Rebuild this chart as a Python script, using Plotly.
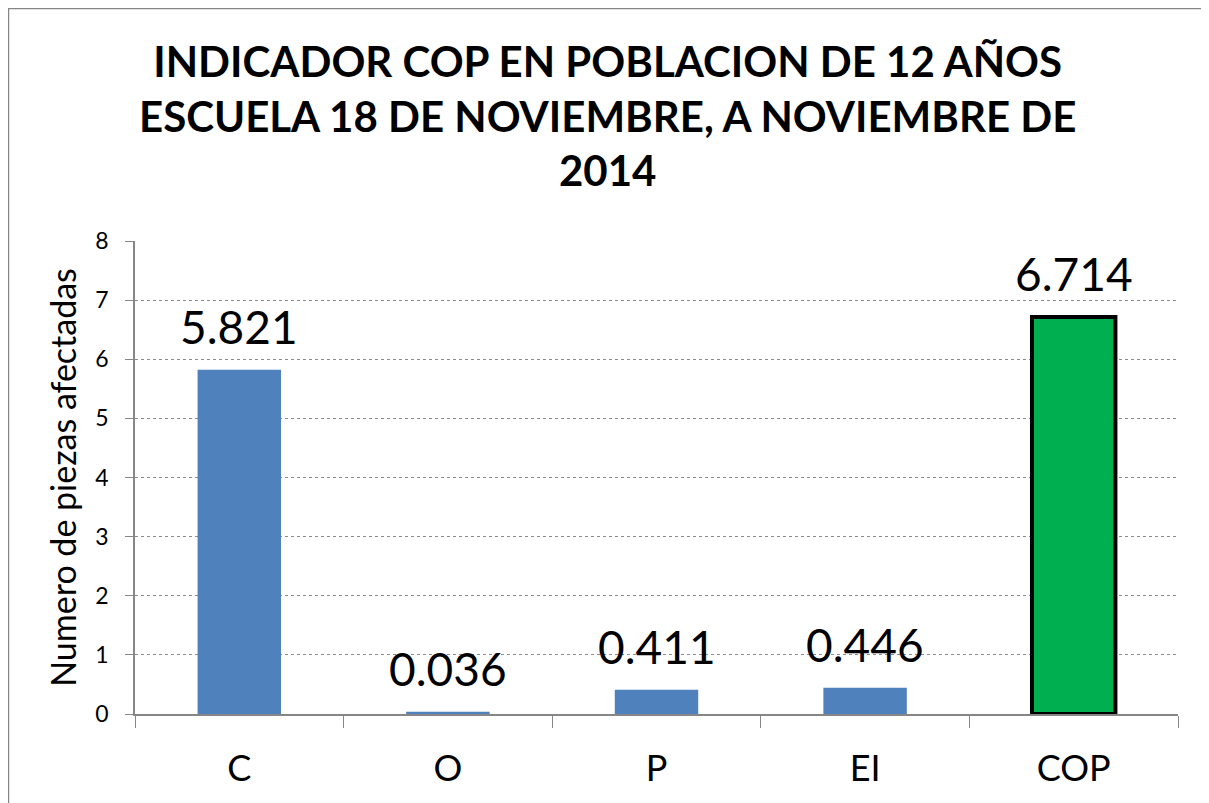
import plotly.graph_objects as go

categories = ["C", "O", "P", "EI", "COP"]
values = [5.821, 0.036, 0.411, 0.446, 6.714]
labels = ["5.821", "0.036", "0.411", "0.446", "6.714"]
bar_colors = ["#4F81BD", "#4F81BD", "#4F81BD", "#4F81BD", "#00B050"]
line_colors = ["#4F81BD", "#4F81BD", "#4F81BD", "#4F81BD", "#000000"]
line_widths = [0, 0, 0, 0, 4]

title_lines = [
    "INDICADOR COP EN POBLACION DE 12 AÑOS",
    "ESCUELA 18 DE NOVIEMBRE, A NOVIEMBRE DE",
    "2014",
]

font_family = "Lato, 'Open Sans', sans-serif"

fig = go.Figure()
fig.add_trace(
    go.Bar(
        x=categories,
        y=values,
        cliponaxis=False,
        marker=dict(color=bar_colors, line=dict(color=line_colors, width=line_widths)),
        width=0.4,
    )
)

# value labels sit a little higher above the bars than plotly's outside text
for cat, val, lab in zip(categories, values, labels):
    fig.add_annotation(
        x=cat,
        y=val,
        text=lab,
        showarrow=False,
        yanchor="bottom",
        yshift=14,
        font=dict(size=46, color="black", family=font_family),
    )

fig.update_xaxes(
    showline=True,
    linecolor="#868686",
    linewidth=1.5,
    ticks="outside",
    tickson="boundaries",
    ticklen=12,
    tickcolor="#868686",
    ticklabelstandoff=22,
    tickfont=dict(size=36, color="black", family=font_family),
    showgrid=False,
)
fig.update_yaxes(
    range=[0, 8],
    dtick=1,
    showline=True,
    linecolor="#868686",
    linewidth=1.5,
    ticks="outside",
    ticklen=8,
    tickcolor="#868686",
    ticklabelstandoff=12,
    tickfont=dict(size=23, color="black", family=font_family),
    showgrid=True,
    gridcolor="#8c8c8c",
    griddash="dot",
    gridwidth=1,
    zeroline=False,
    title=dict(
        text="Numero de piezas afectadas",
        font=dict(size=34, color="black", family=font_family),
        standoff=8,
    ),
)

fig.add_annotation(
    text="<b>" + "<br>".join(title_lines) + "</b>",
    xref="paper",
    yref="paper",
    x=0.453,
    y=1.2643,
    xanchor="center",
    yanchor="middle",
    showarrow=False,
    font=dict(size=42, color="black", family=font_family),
)

fig.update_layout(
    width=1201,
    height=795,
    margin=dict(l=127, r=31, t=233, b=89),
    plot_bgcolor="white",
    paper_bgcolor="white",
    showlegend=False,
    shapes=[
        dict(
            type="rect",
            xref="paper",
            yref="paper",
            x0=-0.1213,
            x1=1.0269,
            y0=-0.3,
            y1=1.4915,
            line=dict(color="#868686", width=1.5),
            layer="below",
        )
    ],
)

fig.write_html("out.html")
